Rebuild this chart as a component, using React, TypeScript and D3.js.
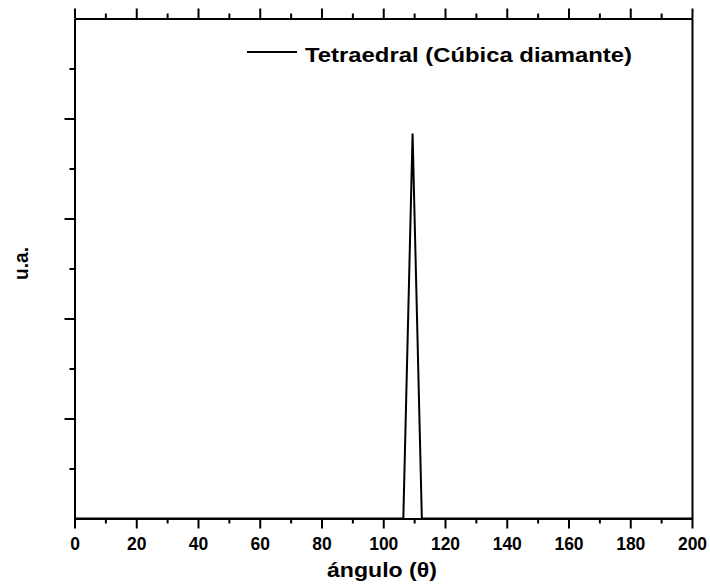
import React, { useEffect, useRef } from "react";
import * as d3 from "d3";

// angle (degrees) and intensity (a.u.)
const angles = [0, 106.5, 109.5, 112.5, 200];
const intensity = [0, 0, 3.85, 0, 0];
const xTicks = [0, 20, 40, 60, 80, 100, 120, 140, 160, 180, 200];
const seriesName = "Tetraedral (Cúbica diamante)";

const App = () => {
  const ref = useRef<SVGSVGElement>(null);

  useEffect(() => {
    const width = 710;
    const height = 586;
    const margin = { top: 18.5, right: 18, bottom: 67.5, left: 74.5 };
    const font = "'Liberation Sans', Arial, sans-serif";

    const svg = d3.select(ref.current);
    svg.selectAll("*").remove();

    const x = d3
      .scaleLinear()
      .domain([0, 200])
      .range([margin.left, width - margin.right]);
    const y = d3
      .scaleLinear()
      .domain([0, 5])
      .range([height - margin.bottom, margin.top]);

    const data = angles.map((a, i) => [a, intensity[i]] as [number, number]);

    // data line
    svg
      .append("path")
      .datum(data)
      .attr("fill", "none")
      .attr("stroke", "#000")
      .attr("stroke-width", 2)
      .attr("stroke-linejoin", "miter")
      .attr(
        "d",
        d3
          .line<[number, number]>()
          .x((d) => x(d[0]))
          .y((d) => y(d[1]))
      );

    const axisStyle = (g: any) => {
      g.select(".domain").attr("stroke-width", 2);
      g.selectAll("line").attr("stroke-width", 2);
      g.selectAll("text")
        .attr("font-family", font)
        .attr("font-size", 17.5)
        .attr("font-weight", "bold")
        .attr("fill", "#000");
    };

    const minorX = d3.range(10, 200, 20);
    const minorY = d3.range(0.5, 5, 1);

    // bottom axis
    svg
      .append("g")
      .attr("transform", `translate(0,${y(0)})`)
      .call(d3.axisBottom(x).tickValues(xTicks).tickSize(10).tickPadding(9).tickSizeOuter(0))
      .call(axisStyle);
    svg
      .append("g")
      .attr("transform", `translate(0,${y(0)})`)
      .call(d3.axisBottom(x).tickValues(minorX).tickSize(5).tickFormat(() => "").tickSizeOuter(0))
      .call(axisStyle);

    // top axis
    svg
      .append("g")
      .attr("transform", `translate(0,${y(5)})`)
      .call(d3.axisTop(x).tickValues(xTicks).tickSize(10).tickFormat(() => "").tickSizeOuter(0))
      .call(axisStyle);
    svg
      .append("g")
      .attr("transform", `translate(0,${y(5)})`)
      .call(d3.axisTop(x).tickValues(minorX).tickSize(5).tickFormat(() => "").tickSizeOuter(0))
      .call(axisStyle);

    // left axis
    svg
      .append("g")
      .attr("transform", `translate(${x(0)},0)`)
      .call(d3.axisLeft(y).tickValues(d3.range(1, 5)).tickSize(10).tickFormat(() => "").tickSizeOuter(0))
      .call(axisStyle);
    svg
      .append("g")
      .attr("transform", `translate(${x(0)},0)`)
      .call(d3.axisLeft(y).tickValues(minorY).tickSize(5).tickFormat(() => "").tickSizeOuter(0))
      .call(axisStyle);

    // right border
    svg
      .append("g")
      .attr("transform", `translate(${x(200)},0)`)
      .call(d3.axisRight(y).tickValues([]).tickSizeOuter(0))
      .call(axisStyle);

    // axis titles
    svg
      .append("text")
      .attr("x", 382)
      .attr("y", 577)
      .attr("text-anchor", "middle")
      .attr("font-family", font)
      .attr("font-size", 19.5)
      .attr("font-weight", "bold")
      .attr("textLength", 110)
      .attr("lengthAdjust", "spacingAndGlyphs")
      .text("ángulo (θ)");

    svg
      .append("text")
      .attr("transform", `translate(28,263.5) rotate(-90)`)
      .attr("text-anchor", "middle")
      .attr("font-family", font)
      .attr("font-size", 19.5)
      .attr("font-weight", "bold")
      .attr("textLength", 33)
      .attr("lengthAdjust", "spacingAndGlyphs")
      .text("u.a.");

    // legend
    svg
      .append("line")
      .attr("x1", 247)
      .attr("x2", 297)
      .attr("y1", 52)
      .attr("y2", 52)
      .attr("stroke", "#000")
      .attr("stroke-width", 2);
    svg
      .append("text")
      .attr("x", 305)
      .attr("y", 61.5)
      .attr("font-family", font)
      .attr("font-size", 20)
      .attr("font-weight", "bold")
      .attr("textLength", 327)
      .attr("lengthAdjust", "spacingAndGlyphs")
      .text(seriesName);
  }, []);

  return (
    <svg
      ref={ref}
      width={710}
      height={586}
      style={{ position: "absolute", left: 0, top: 0, background: "#fff" }}
    />
  );
};

export default App;
